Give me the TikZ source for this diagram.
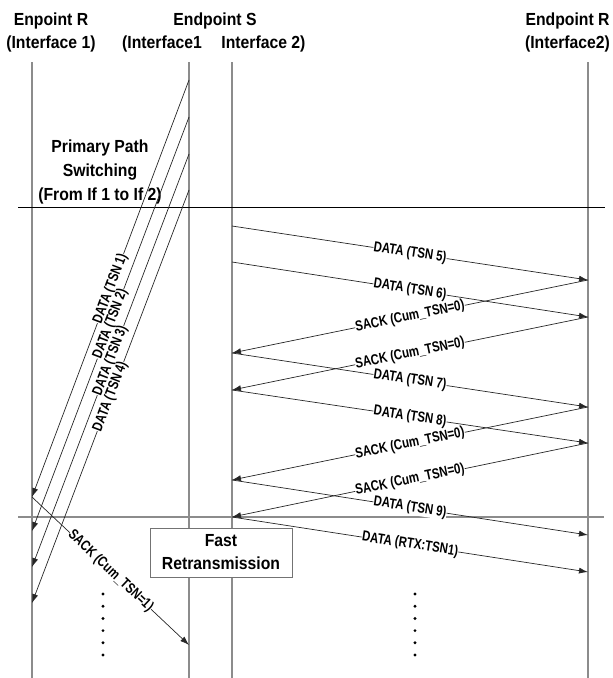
\documentclass[tikz,border=0pt]{standalone}
\usepackage{fontspec}
\setmainfont{Liberation Sans}
\newfontfamily\headfont[FakeStretch=0.9]{Liberation Sans}
\newfontfamily\labfont[FakeStretch=0.79]{Liberation Sans}
\usetikzlibrary{arrows.meta}
\begin{document}
\begin{tikzpicture}[x=1pt,y=-1pt,
  life/.style={draw=black!45, line width=1.4pt},
  msg/.style={draw=black!85, line width=0.7pt, -{Latex[length=9pt,width=6pt]}},
  lab/.style={fill=white, inner sep=0.3pt, font=\labfont\bfseries\fontsize{14.5}{16}\selectfont, sloped, pos=0.5},
  head/.style={font=\headfont\bfseries\fontsize{17.5}{23}\selectfont, anchor=base, inner sep=0pt},
  dotc/.style={circle, fill=black, inner sep=0pt, minimum size=3.2pt},
  fastbox/.style={draw=black!55, line width=1pt, fill=white, align=center,
    minimum width=142pt, minimum height=49pt, inner sep=0pt,
    font=\headfont\bfseries\fontsize{17.5}{23}\selectfont}
]
\useasboundingbox (0,0) rectangle (613,678);

% headers
\node[head] (hR1a) at (51,25) {Enpoint R};
\node[head] (hR1b) at (51,48) {(Interface 1)};
\node[head] (hS) at (215,25) {Endpoint S};
\node[head] (hS1) at (162,48) {(Interface1};
\node[head] (hS2) at (263.5,48) {Interface 2)};
\node[head] (hR2a) at (567.5,25) {Endpoint R};
\node[head] (hR2b) at (567.5,48) {(Interface2)};

% primary path switching text
\node[head] (pp1) at (100,152) {Primary Path};
\node[head] (pp2) at (100,176) {Switching};
\node[head] (pp3) at (100,200) {(From If 1 to If 2)};

% lifelines
\coordinate (R1t) at (32,62);  \coordinate (R1b) at (32,678);
\coordinate (S1t) at (189,62); \coordinate (S1b) at (189,678);
\coordinate (S2t) at (232,62); \coordinate (S2b) at (232,678);
\coordinate (R2t) at (588,62); \coordinate (R2b) at (588,678);
\draw[life] (R1t) -- (R1b);
\draw[life] (S1t) -- (S1b);
\draw[life] (S2t) -- (S2b);
\draw[life] (R2t) -- (R2b);

% separators
\coordinate (H1a) at (18,207); \coordinate (H1b) at (605,207);
\coordinate (H2a) at (18,517); \coordinate (H2b) at (604,517);
\draw[black, line width=0.8pt] (H1a) -- (H1b);
\draw[black!45, line width=1.4pt] (H2a) -- (H2b);

% message end points
\coordinate (s1a) at (189,80);  \coordinate (r1a) at (32,497);
\coordinate (s1b) at (189,117); \coordinate (r1b) at (32,531);
\coordinate (s1c) at (189,154); \coordinate (r1c) at (32,567);
\coordinate (s1d) at (189,190); \coordinate (r1d) at (32,603);
\coordinate (s1e) at (189,645);

\coordinate (s2a) at (232,226); \coordinate (r2a) at (588,280);
\coordinate (s2b) at (232,262); \coordinate (r2b) at (588,317);
\coordinate (s2c) at (232,353); \coordinate (r2c) at (588,407);
\coordinate (s2d) at (232,390); \coordinate (r2d) at (588,443);
\coordinate (s2e) at (232,480); \coordinate (r2e) at (588,535);
\coordinate (s2f) at (232,517); \coordinate (r2f) at (588,572);

% old path data
\draw[msg] (s1a) -- node[lab] (l1) {DATA (TSN 1)} (r1a);
\draw[msg] (s1b) -- node[lab] (l2) {DATA (TSN 2)} (r1b);
\draw[msg] (s1c) -- node[lab] (l3) {DATA (TSN 3)} (r1c);
\draw[msg] (s1d) -- node[lab] (l4) {DATA (TSN 4)} (r1d);
\draw[msg] (r1a) -- node[lab] (l5) {SACK (Cum\_TSN=1)} (s1e);

% new path
\draw[msg] (s2a) -- node[lab] (m1) {DATA (TSN 5)} (r2a);
\draw[msg] (s2b) -- node[lab] (m2) {DATA (TSN 6)} (r2b);
\draw[msg] (r2a) -- node[lab] (m3) {SACK (Cum\_TSN=0)} (s2c);
\draw[msg] (r2b) -- node[lab] (m4) {SACK (Cum\_TSN=0)} (s2d);
\draw[msg] (s2c) -- node[lab] (m5) {DATA (TSN 7)} (r2c);
\draw[msg] (s2d) -- node[lab] (m6) {DATA (TSN 8)} (r2d);
\draw[msg] (r2c) -- node[lab] (m7) {SACK (Cum\_TSN=0)} (s2e);
\draw[msg] (r2d) -- node[lab] (m8) {SACK (Cum\_TSN=0)} (s2f);
\draw[msg] (s2e) -- node[lab] (m9) {DATA (TSN 9)} (r2e);
\draw[msg] (s2f) -- node[lab] (m10) {DATA (RTX:TSN1)} (r2f);

% fast retransmission box
\node[fastbox] (fast) at (221,552.5) {Fast\\Retransmission};

% dots
\foreach \i in {0,...,5} {
  \node[dotc] (dl\i) at (103,594+12.2*\i) {};
  \node[dotc] (dr\i) at (415,594+12.2*\i) {};
}
\end{tikzpicture}
\end{document}
